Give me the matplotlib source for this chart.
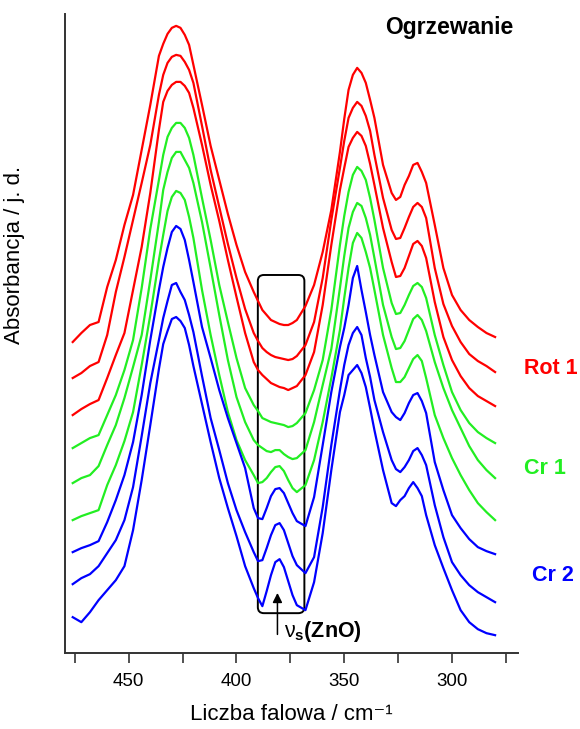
import numpy as np
import matplotlib.pyplot as plt
from matplotlib.patches import FancyBboxPatch

# wavenumber grid (cm-1), denser around the band maxima
wavenumber = [476, 472, 468, 464, 460, 456, 452, 448, 444, 440,
              436, 434, 432, 430, 428, 426, 424, 422, 420,
              416, 412, 408, 404, 400, 396, 392,
              390, 388, 386, 384, 382, 380, 378, 376, 374, 372,
              368, 364, 360, 356, 352,
              350, 348, 346, 344, 342, 340, 338, 336,
              332, 328,
              326, 324, 322, 320, 318, 316, 314, 312,
              308, 304, 300, 296, 292, 288, 284, 280]

# absorbance traces (arbitrary units, stacked as plotted), heating sequence
rot1_a = [311, 320, 328, 331, 366, 393, 428, 458, 503, 548,
          597, 609, 619, 625, 627, 625, 618, 608, 588,
          548, 507, 473, 439, 408, 381, 361,
          352, 343, 338, 333, 331, 329, 328, 328, 330, 333,
          347, 368, 401, 443, 501,
          534, 563, 578, 585, 580, 570, 553, 535,
          488, 460,
          453, 456, 468, 477, 488, 490, 481, 470,
          428, 385, 358, 343, 333, 326, 320, 316]
rot1_b = [275, 280, 287, 291, 318, 361, 396, 433, 470, 508,
          558, 578, 590, 596, 598, 597, 591, 583, 570,
          527, 483, 446, 409, 375, 344, 320,
          312, 305, 301, 298, 296, 295, 294, 293, 294, 297,
          308, 331, 375, 433, 485,
          512, 535, 545, 551, 547, 537, 522, 498,
          455, 423,
          414, 415, 425, 436, 446, 450, 446, 435,
          385, 349, 327, 311, 299, 292, 287, 281]
rot1_c = [238, 244, 249, 253, 275, 298, 320, 363, 406, 460,
          523, 551, 562, 568, 571, 571, 567, 560, 545,
          508, 468, 432, 393, 356, 320, 291,
          283, 278, 274, 270, 268, 266, 265, 263, 265, 267,
          278, 301, 348, 408, 463,
          485, 506, 515, 521, 517, 507, 489, 468,
          425, 391,
          376, 377, 385, 397, 409, 412, 407, 395,
          351, 316, 293, 277, 265, 257, 252, 247]
cr1_a = [205, 210, 215, 218, 238, 258, 283, 313, 365, 424,
         473, 498, 516, 525, 530, 530, 525, 515, 498,
         455, 413, 368, 331, 295, 265, 248,
         242, 235, 233, 231, 230, 229, 228, 226, 227, 230,
         240, 263, 293, 343, 408,
         437, 461, 478, 486, 482, 473, 455, 433,
         385, 350,
         339, 340, 348, 358, 367, 370, 366, 355,
         318, 288, 261, 243, 230, 221, 215, 210]
cr1_b = [170, 175, 178, 187, 208, 228, 255, 286, 318, 373,
         431, 463, 481, 495, 501, 501, 493, 485, 470,
         431, 385, 338, 293, 256, 231, 213,
         208, 205, 202, 201, 203, 203, 199, 196, 194, 195,
         203, 231, 268, 304, 365,
         397, 425, 441, 450, 447, 435, 418, 395,
         348, 316,
         304, 305, 312, 323, 334, 338, 333, 322,
         291, 265, 243, 225, 207, 193, 183, 175]
cr1_c = [133, 137, 140, 143, 168, 188, 212, 241, 288, 338,
         393, 418, 442, 456, 462, 460, 453, 436, 415,
         363, 318, 278, 241, 213, 193, 178,
         170, 171, 175, 181, 186, 187, 182, 173, 165, 161,
         168, 193, 231, 275, 323,
         355, 385, 410, 420, 415, 401, 385, 363,
         318, 285,
         271, 271, 276, 285, 294, 298, 292, 275,
         238, 215, 195, 178, 163, 150, 141, 133]
cr2_a = [101, 105, 108, 112, 131, 153, 178, 211, 258, 313,
         363, 386, 405, 421, 427, 424, 413, 393, 371,
         326, 295, 263, 235, 210, 185, 145,
         135, 134, 145, 157, 164, 165, 160, 150, 140, 132,
         127, 156, 208, 261, 306,
         325, 348, 375, 387, 363, 341, 318, 298,
         261, 241,
         236, 233, 240, 250, 258, 260, 252, 240,
         191, 163, 138, 125, 114, 106, 102, 99]
cr2_b = [69, 75, 79, 87, 100, 113, 133, 166, 217, 270,
         313, 335, 352, 368, 370, 361, 353, 338, 321,
         277, 235, 203, 170, 143, 121, 101,
         92, 93, 105, 118, 128, 130, 123, 110, 97, 88,
         80, 96, 146, 208, 263,
         288, 308, 320, 326, 318, 295, 276, 253,
         221, 193,
         184, 181, 186, 193, 202, 205, 198, 188,
         148, 116, 91, 78, 68, 61, 56, 51]
cr2_c = [36, 31, 41, 53, 63, 73, 87, 123, 173, 228,
         284, 309, 322, 334, 336, 332, 325, 308, 287,
         249, 211, 175, 145, 117, 87, 65,
         55, 47, 62, 78, 91, 94, 86, 72, 58, 48,
         43, 71, 120, 183, 241,
         258, 278, 283, 288, 280, 266, 245, 223,
         183, 150,
         147, 153, 157, 165, 171, 165, 157, 138,
         108, 85, 63, 43, 31, 24, 20, 18]

major_ticks = [450, 400, 350, 300]
minor_ticks = [475, 425, 375, 325, 275]

red = '#ff0000'
green = '#22ee22'
blue = '#0000ff'

plt.rcParams['font.family'] = ['Liberation Sans', 'DejaVu Sans']
plt.rcParams['mathtext.fontset'] = 'custom'
plt.rcParams['mathtext.rm'] = 'Liberation Sans'
plt.rcParams['mathtext.it'] = 'Liberation Sans'
plt.rcParams['mathtext.bf'] = 'Liberation Sans:bold'

fig = plt.figure(figsize=(5.8, 7.29), dpi=100)
ax = fig.add_axes([0.112, 0.104, 0.781, 0.877])

traces = [(rot1_a, red), (rot1_b, red), (rot1_c, red),
          (cr1_a, green), (cr1_b, green), (cr1_c, green),
          (cr2_a, blue), (cr2_b, blue), (cr2_c, blue)]
for ys, col in traces:
    ax.plot(wavenumber, ys, color=col, lw=1.6, solid_joinstyle='round')

ax.set_xlim(479.6, 269.4)
ax.set_ylim(0, 639)
ax.spines[['top', 'right']].set_visible(False)
for s in ['left', 'bottom']:
    ax.spines[s].set_linewidth(1.4)
    ax.spines[s].set_color('#333333')
ax.set_yticks([])
ax.set_xticks(major_ticks)
ax.set_xticks(minor_ticks, minor=True)
ax.tick_params(axis='x', which='both', direction='out', length=7, width=1.2,
               labelsize=13.5, pad=7, color='#333333')

ax.set_xlabel('Liczba falowa / cm\u207b\u00b9', fontsize=16, labelpad=10)
ax.set_ylabel('Absorbancja / j. d.', fontsize=16)
ax.yaxis.set_label_coords(-0.088, 0.623)

# marked region of the ZnO band
box = FancyBboxPatch((368.5, 40), 21.6, 338, boxstyle='round,pad=0,rounding_size=2.8',
                     mutation_aspect=2.16, fill=False, lw=1.4, ec='black')
ax.add_patch(box)
ax.annotate('', xy=(381, 63), xytext=(381, 16),
            arrowprops=dict(arrowstyle='-|>', color='black', lw=1.1, mutation_scale=14))
ax.text(377.8, 22, r'$\nu_\mathbf{s}$(ZnO)', fontsize=15.5, fontweight='bold',
        ha='left', va='center')

ax.text(0.989, 0.978, 'Ogrzewanie', transform=ax.transAxes, ha='right', va='center',
        fontsize=16.5, fontweight='bold')
ax.text(1.013, 0.446, 'Rot 1', transform=ax.transAxes, color=red, ha='left',
        va='center', fontsize=15.5, fontweight='bold')
ax.text(1.013, 0.289, 'Cr 1', transform=ax.transAxes, color=green, ha='left',
        va='center', fontsize=15.5, fontweight='bold')
ax.text(1.032, 0.122, 'Cr 2', transform=ax.transAxes, color=blue, ha='left',
        va='center', fontsize=15.5, fontweight='bold')

fig.savefig('out.png', dpi=100)
